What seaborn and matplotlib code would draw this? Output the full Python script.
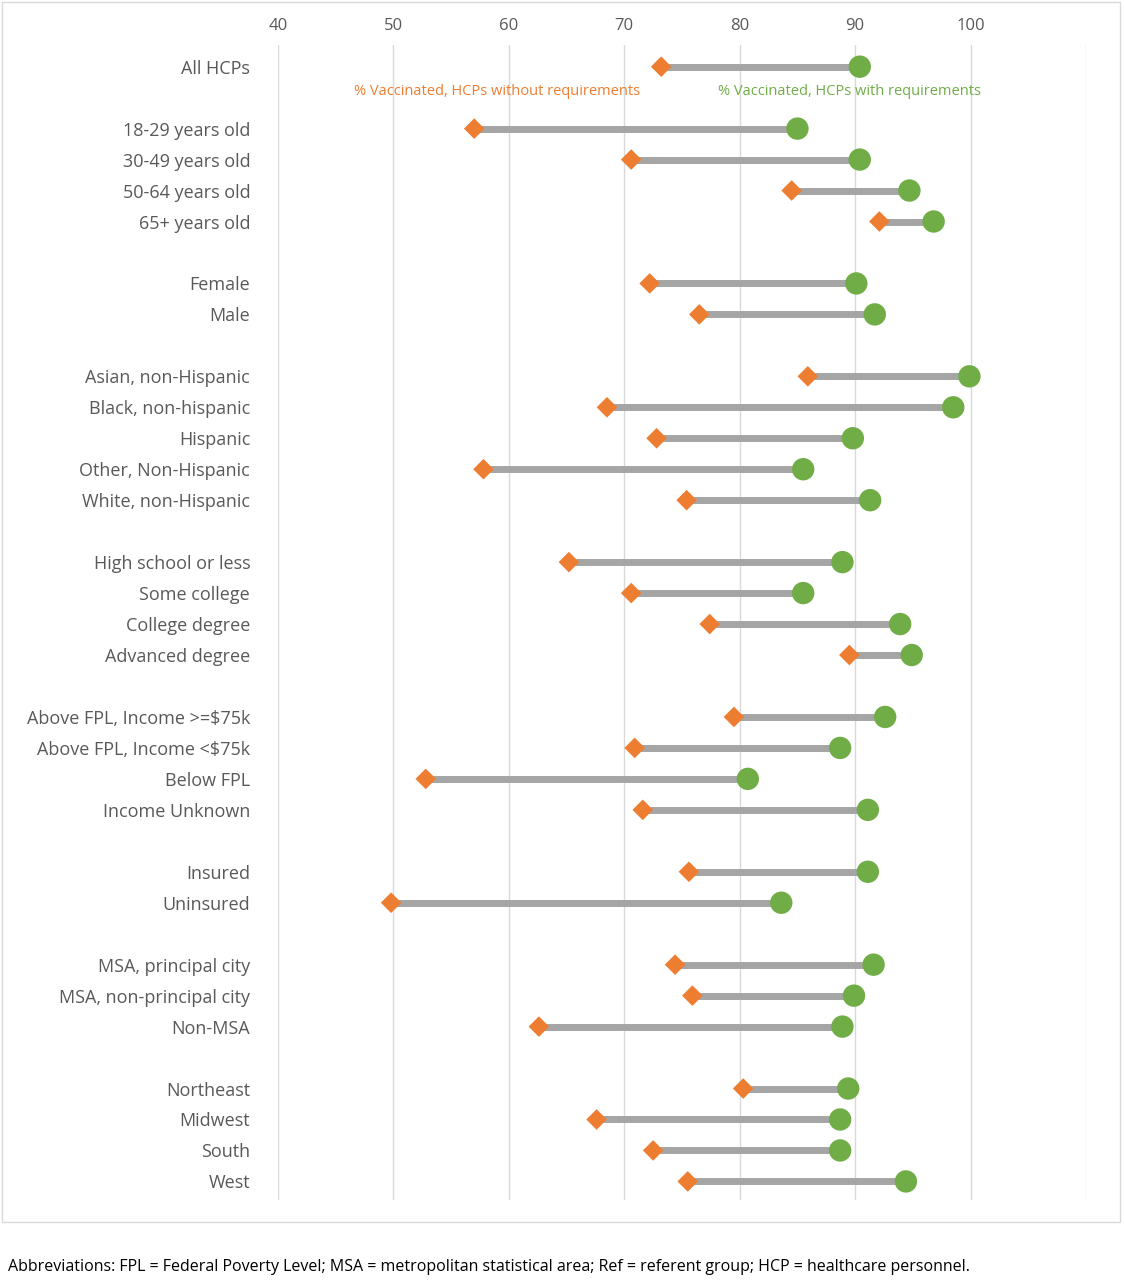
import matplotlib
matplotlib.use("Agg")
import matplotlib.pyplot as plt
import pandas as pd
import seaborn as sns
from matplotlib.patches import Rectangle

# groups separated by a blank row
groups = [
    ["All HCPs"],
    ["18-29 years old", "30-49 years old", "50-64 years old", "65+ years old"],
    ["Female", "Male"],
    ["Asian, non-Hispanic", "Black, non-hispanic", "Hispanic", "Other, Non-Hispanic", "White, non-Hispanic"],
    ["High school or less", "Some college", "College degree", "Advanced degree"],
    ["Above FPL, Income >=$75k", "Above FPL, Income <$75k", "Below FPL", "Income Unknown"],
    ["Insured", "Uninsured"],
    ["MSA, principal city", "MSA, non-principal city", "Non-MSA"],
    ["Northeast", "Midwest", "South", "West"],
]
without_req = [73.2, 57.0, 70.6, 84.5, 92.1, 72.2, 76.5, 85.9, 68.5, 72.8, 57.8, 75.4,
               65.2, 70.6, 77.4, 89.5, 79.5, 70.9, 52.8, 71.6, 75.6, 49.8, 74.4, 75.9,
               62.6, 80.3, 67.6, 72.5, 75.5]
with_req = [90.4, 85.0, 90.4, 94.7, 96.8, 90.1, 91.7, 99.9, 98.5, 89.8, 85.5, 91.3,
            88.9, 85.5, 93.9, 94.9, 92.6, 88.7, 80.7, 91.1, 91.1, 83.6, 91.6, 89.9,
            88.9, 89.4, 88.7, 88.7, 94.4]

labels, pos = [], []
row = 0
for g in groups:
    for lab in g:
        labels.append(lab)
        pos.append(row)
        row += 1
    row += 1
n_rows = row - 1

df = pd.DataFrame({"label": labels, "y": pos, "without": without_req, "with": with_req})

ORANGE = "#ED7D31"
GREEN = "#70AD47"
TEXT = "#595959"

plt.rcParams["font.family"] = ["Open Sans", "DejaVu Sans"]
fig = plt.figure(figsize=(11.24, 12.8), dpi=100)
ax = fig.add_axes([278 / 1124, 1 - 1200 / 1280, (1086 - 278) / 1124, (1200 - 45) / 1280])

ax.hlines(df["y"], df["without"], df["with"], color="#A5A5A5", lw=5, zorder=2)
sns.scatterplot(data=df, x="without", y="y", marker="D", s=110, color=ORANGE,
                edgecolor="none", ax=ax, zorder=3)
sns.scatterplot(data=df, x="with", y="y", marker="o", s=260, color=GREEN,
                edgecolor="none", ax=ax, zorder=3)

ax.set_xlim(40, 110)
ax.set_ylim(n_rows - 0.4, -0.7)
ax.set_xticks(range(40, 111, 10))
ax.set_xticklabels([str(v) if v <= 100 else "" for v in range(40, 111, 10)])
ax.xaxis.tick_top()
ax.grid(axis="x", color="#D9D9D9", lw=1)
ax.set_axisbelow(True)
ax.set_yticks(df["y"])
ax.set_yticklabels(df["label"])
ax.tick_params(length=0, labelsize=13, colors=TEXT, pad=20)
ax.tick_params(axis="x", labelsize=12, pad=8)
ax.set_xlabel("")
ax.set_ylabel("")
for s in ax.spines.values():
    s.set_visible(False)

ax.text(59, 0.8, "% Vaccinated, HCPs without requirements", color=ORANGE,
        fontsize=10.5, ha="center", va="center")
ax.text(89.5, 0.8, "% Vaccinated, HCPs with requirements", color=GREEN,
        fontsize=10.5, ha="center", va="center")

fig.patches.append(Rectangle((2 / 1124, 1 - 1222 / 1280), 1118 / 1124, 1220 / 1280,
                             transform=fig.transFigure, fill=False, ec="#D9D9D9", lw=1))
fig.text(8 / 1124, 1 - 1267 / 1280,
         "Abbreviations: FPL = Federal Poverty Level; MSA = metropolitan statistical area; "
         "Ref = referent group; HCP = healthcare personnel.",
         fontsize=11.5, va="center", color="black")

fig.savefig("out.png", dpi=100)
